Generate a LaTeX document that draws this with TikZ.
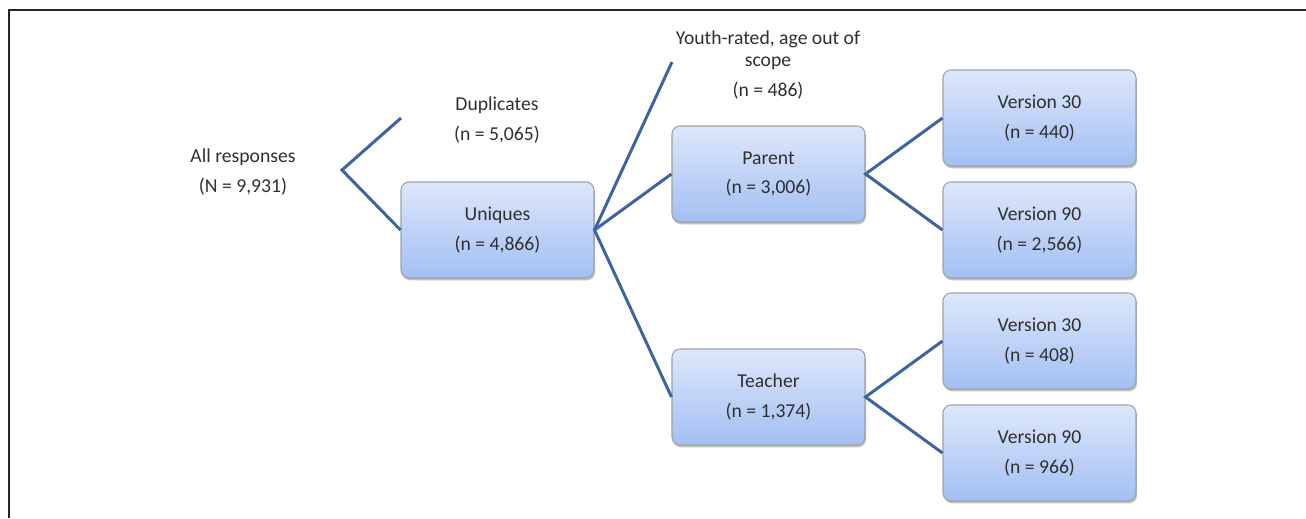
\documentclass[tikz,border=0pt]{standalone}
\usepackage{fontspec}
\setmainfont{Carlito}
\usetikzlibrary{shadows}
\definecolor{BranchBlue}{HTML}{3C64A0}
\definecolor{BoxTop}{HTML}{DDE7FB}
\definecolor{BoxBottom}{HTML}{A3BFF3}
\definecolor{BoxEdge}{HTML}{9CA2AA}
\definecolor{InkGray}{HTML}{2F2F2F}
\newcommand{\CountFont}{\fontsize{11.2pt}{17pt}\selectfont}

\tikzset{
  groupbox/.style={rectangle, rounded corners=4.5pt, draw=BoxEdge, line width=0.6pt,
    top color=BoxTop, bottom color=BoxBottom, minimum width=3.86cm, minimum height=1.92cm,
    align=center, text=InkGray, font=\CountFont,
    drop shadow={shadow xshift=0.6pt, shadow yshift=-1.3pt, opacity=0.35, fill=black!70}},
  plainlabel/.style={align=center, text=InkGray, font=\CountFont},
  branch/.style={draw=BranchBlue, line width=1.7pt}
}

\begin{document}
\begin{tikzpicture}[x=0.02cm, y=-0.02cm]
  \useasboundingbox (0,0) rectangle (1306,518);
  % frame: only top and left edges show
  \draw[black!85, line width=1.1pt] (9,518) -- (9,10) -- (1306,10);

  % free labels
  \node[plainlabel] (all) at (243,172) {All responses\\(N = 9,931)};
  \node[plainlabel] (dup) at (497,120) {Duplicates\\(n = 5,065)};
  \node[plainlabel, font=\fontsize{11.2pt}{12.5pt}\selectfont] (youth) at (768,65)
    {Youth-rated, age out of\\scope\\[4.5pt](n = 486)};

  % boxes
  \node[groupbox] (uniq) at (497.5,230) {Uniques\\(n = 4,866)};
  \node[groupbox] (parent) at (768.5,174) {Parent\\(n = 3,006)};
  \node[groupbox] (teacher) at (768.5,397) {Teacher\\(n = 1,374)};
  \node[groupbox] (p30) at (1039.5,118) {Version 30\\(n = 440)};
  \node[groupbox] (p90) at (1039.5,230) {Version 90\\(n = 2,566)};
  \node[groupbox] (t30) at (1039.5,341) {Version 30\\(n = 408)};
  \node[groupbox] (t90) at (1039.5,453) {Version 90\\(n = 966)};

  % branch points and free ends
  \coordinate (allfork) at (342,170);
  \coordinate (dupend) at (401,118);
  \coordinate (youthend) at (672,62);

  % connectors
  \draw[branch] (dupend) -- (allfork) -- (uniq.west);
  \draw[branch] (youthend) -- (uniq.east);
  \draw[branch] (parent.west) -- (uniq.east) -- (teacher.west);
  \draw[branch] (p30.west) -- (parent.east) -- (p90.west);
  \draw[branch] (t30.west) -- (teacher.east) -- (t90.west);
\end{tikzpicture}
\end{document}
